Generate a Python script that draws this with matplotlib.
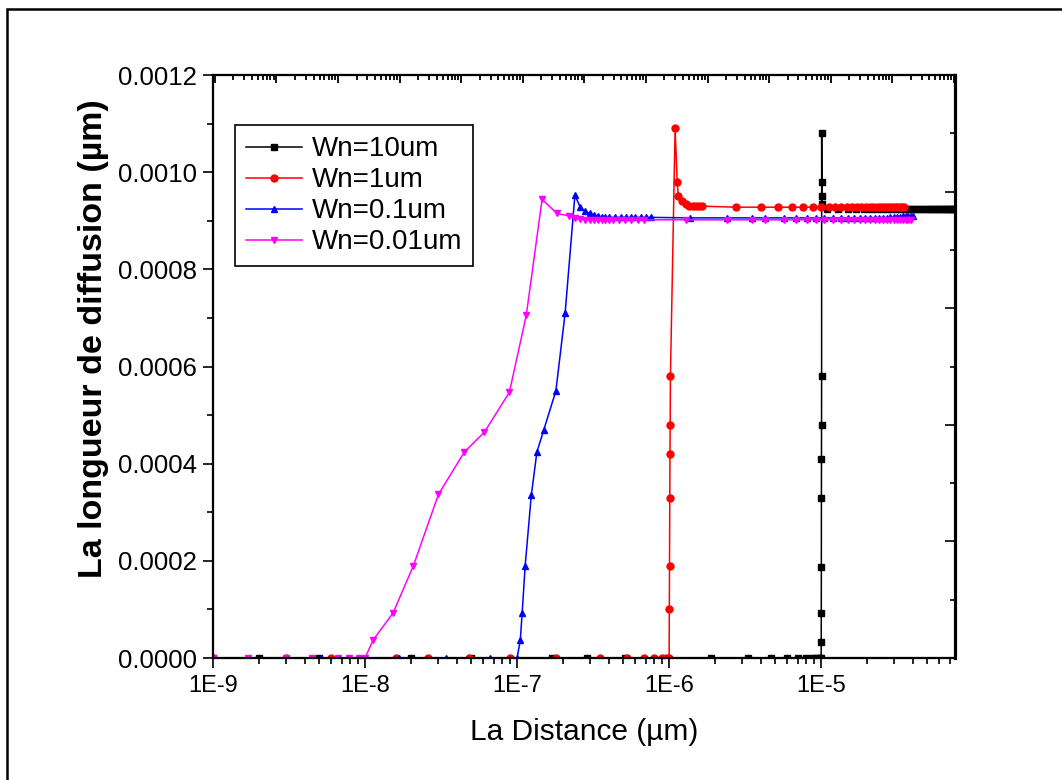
import numpy as np
import matplotlib
matplotlib.use("Agg")
import matplotlib.pyplot as plt
from matplotlib.ticker import LogLocator, MultipleLocator, FuncFormatter, FormatStrFormatter, NullFormatter
from matplotlib.patches import Rectangle

plt.rcParams['font.family'] = ['Liberation Sans', 'DejaVu Sans']

# Wn=10um
black_x = [1e-9, 2e-9, 5e-9, 2e-8, 5e-8, 1.7e-7, 2.9e-7, 5.1e-7, 1.9e-6, 3.3e-6, 4.7e-6, 6e-6, 7e-6, 8e-6,
           8.7e-6, 9.2e-6, 9.6e-6, 9.9e-6,
           1.000e-5, 1.001e-5, 1.002e-5, 1.003e-5, 1.004e-5, 1.005e-5, 1.006e-5, 1.007e-5,
           1.008e-5, 1.010e-5, 1.012e-5, 1.02e-5,
           1.1e-5, 1.3e-5, 1.5e-5, 1.7e-5, 1.9e-5, 2.1e-5, 2.3e-5, 2.5e-5, 2.7e-5, 2.9e-5, 3.1e-5,
           3.3e-5, 3.5e-5, 3.7e-5, 3.9e-5, 4.1e-5, 4.3e-5, 4.5e-5, 4.7e-5, 4.9e-5, 5.1e-5, 5.3e-5,
           5.5e-5, 5.7e-5, 5.9e-5, 6.1e-5, 6.3e-5, 6.5e-5, 6.7e-5, 6.9e-5, 7.1e-5, 7.3e-5, 7.5e-5]
black_y = [0, 0, 0, 0, 0, 0, 0, 0, 0, 0, 0, 0, 0, 0,
           0, 0, 0, 0,
           0, 3.3e-5, 9.3e-5, 1.87e-4, 3.3e-4, 4.1e-4, 4.8e-4, 5.8e-4,
           1.08e-3, 9.8e-4, 9.5e-4, 9.35e-4,
           9.25e-4, 9.25e-4, 9.25e-4, 9.25e-4, 9.25e-4, 9.25e-4, 9.25e-4, 9.25e-4, 9.25e-4, 9.25e-4, 9.25e-4,
           9.25e-4, 9.25e-4, 9.25e-4, 9.25e-4, 9.25e-4, 9.25e-4, 9.25e-4, 9.25e-4, 9.25e-4, 9.25e-4, 9.25e-4,
           9.25e-4, 9.25e-4, 9.25e-4, 9.25e-4, 9.25e-4, 9.25e-4, 9.25e-4, 9.25e-4, 9.25e-4, 9.25e-4, 9.25e-4]

# Wn=1um
red_x = [1e-9, 3e-9, 6e-9, 1.6e-8, 2.6e-8, 4.8e-8, 9e-8, 1.8e-7, 3.5e-7, 5.3e-7, 6.8e-7, 8e-7, 9e-7, 9.6e-7,
         1.0e-6, 1.003e-6, 1.006e-6, 1.010e-6, 1.013e-6, 1.016e-6, 1.02e-6,
         1.095e-6, 1.13e-6, 1.15e-6, 1.22e-6, 1.29e-6, 1.36e-6, 1.43e-6, 1.5e-6, 1.58e-6, 1.65e-6,
         2.75e-6, 4e-6, 5.2e-6, 6.4e-6, 7.6e-6, 8.8e-6, 1.0e-5, 1.12e-5, 1.24e-5, 1.36e-5, 1.48e-5,
         1.6e-5, 1.72e-5, 1.84e-5, 1.96e-5, 2.08e-5, 2.2e-5, 2.32e-5, 2.44e-5, 2.56e-5, 2.68e-5,
         2.8e-5, 2.92e-5, 3.04e-5, 3.16e-5, 3.28e-5, 3.4e-5, 3.52e-5]
red_y = [0, 0, 0, 0, 0, 0, 0, 0, 0, 0, 0, 0, 0, 0,
         0, 1.0e-4, 1.9e-4, 3.3e-4, 4.2e-4, 4.8e-4, 5.8e-4,
         1.09e-3, 9.8e-4, 9.5e-4, 9.4e-4, 9.35e-4, 9.3e-4, 9.3e-4, 9.3e-4, 9.3e-4, 9.3e-4,
         9.28e-4, 9.28e-4, 9.28e-4, 9.28e-4, 9.28e-4, 9.28e-4, 9.28e-4, 9.28e-4, 9.28e-4, 9.28e-4, 9.28e-4,
         9.28e-4, 9.28e-4, 9.28e-4, 9.28e-4, 9.28e-4, 9.28e-4, 9.28e-4, 9.28e-4, 9.28e-4, 9.28e-4,
         9.28e-4, 9.28e-4, 9.28e-4, 9.28e-4, 9.28e-4, 9.28e-4, 9.28e-4]

# Wn=0.1um
blue_x = [1e-9, 3.1e-9, 5.1e-9, 9.4e-9, 1.67e-8, 3.4e-8, 6.6e-8, 1.0e-7,
          1.05e-7, 1.08e-7, 1.13e-7, 1.24e-7, 1.35e-7, 1.5e-7, 1.8e-7, 2.07e-7, 2.4e-7,
          2.6e-7, 2.8e-7, 3.0e-7, 3.2e-7, 3.4e-7, 3.6e-7, 3.8e-7, 4.0e-7, 4.4e-7, 4.8e-7, 5.2e-7,
          5.6e-7, 6.0e-7, 6.5e-7, 7.0e-7, 7.6e-7,
          1.37e-6, 2.4e-6, 3.5e-6, 4.3e-6, 5.7e-6, 6.8e-6, 8.1e-6, 9.2e-6,
          1.05e-5, 1.2e-5, 1.35e-5, 1.5e-5, 1.65e-5, 1.8e-5, 1.95e-5, 2.1e-5, 2.25e-5, 2.4e-5, 2.55e-5,
          2.7e-5, 2.85e-5, 3.0e-5, 3.15e-5, 3.3e-5, 3.45e-5, 3.6e-5, 3.75e-5, 3.9e-5, 4.05e-5]
blue_y = [0, 0, 0, 0, 0, 0, 0, 0,
          3.7e-5, 9.3e-5, 1.9e-4, 3.35e-4, 4.24e-4, 4.7e-4, 5.5e-4, 7.1e-4, 9.53e-4,
          9.28e-4, 9.2e-4, 9.15e-4, 9.12e-4, 9.1e-4, 9.08e-4, 9.07e-4, 9.07e-4, 9.07e-4, 9.07e-4, 9.07e-4,
          9.07e-4, 9.07e-4, 9.07e-4, 9.07e-4, 9.07e-4,
          9.06e-4, 9.06e-4, 9.06e-4, 9.06e-4, 9.06e-4, 9.06e-4, 9.06e-4, 9.06e-4,
          9.06e-4, 9.06e-4, 9.06e-4, 9.06e-4, 9.06e-4, 9.06e-4, 9.06e-4, 9.06e-4, 9.06e-4, 9.06e-4, 9.06e-4,
          9.06e-4, 9.07e-4, 9.07e-4, 9.08e-4, 9.08e-4, 9.09e-4, 9.09e-4, 9.1e-4, 9.1e-4, 9.1e-4]

# Wn=0.01um
mag_x = [1e-9, 1.7e-9, 3e-9, 4.5e-9, 6.6e-9, 7.8e-9, 9.1e-9, 1.0e-8,
         1.13e-8, 1.53e-8, 2.08e-8, 3.04e-8, 4.5e-8, 6.1e-8, 8.9e-8, 1.15e-7, 1.46e-7,
         1.83e-7, 2.2e-7, 2.4e-7, 2.6e-7, 2.8e-7, 3.0e-7, 3.2e-7, 3.4e-7, 3.6e-7, 3.8e-7, 4.0e-7,
         4.3e-7, 4.7e-7, 5.1e-7, 5.6e-7, 6.2e-7, 6.8e-7,
         1.3e-6, 2.4e-6, 3.5e-6, 4.3e-6, 5.7e-6, 6.8e-6, 8.1e-6, 9.2e-6,
         1.05e-5, 1.2e-5, 1.35e-5, 1.5e-5, 1.65e-5, 1.8e-5, 1.95e-5, 2.1e-5, 2.25e-5, 2.4e-5, 2.55e-5,
         2.7e-5, 2.85e-5, 3.0e-5, 3.15e-5, 3.3e-5, 3.45e-5, 3.6e-5, 3.75e-5, 3.9e-5]
mag_y = [0, 0, 0, 0, 0, 0, 0, 0,
         3.7e-5, 9.3e-5, 1.9e-4, 3.37e-4, 4.24e-4, 4.65e-4, 5.47e-4, 7.06e-4, 9.44e-4,
         9.15e-4, 9.1e-4, 9.05e-4, 9.03e-4, 9.02e-4, 9.02e-4, 9.02e-4, 9.02e-4, 9.02e-4, 9.02e-4, 9.02e-4,
         9.02e-4, 9.02e-4, 9.02e-4, 9.02e-4, 9.02e-4, 9.02e-4,
         9.02e-4, 9.02e-4, 9.02e-4, 9.02e-4, 9.02e-4, 9.02e-4, 9.02e-4, 9.02e-4,
         9.02e-4, 9.02e-4, 9.02e-4, 9.02e-4, 9.02e-4, 9.02e-4, 9.02e-4, 9.02e-4, 9.02e-4, 9.02e-4, 9.02e-4,
         9.02e-4, 9.02e-4, 9.02e-4, 9.02e-4, 9.02e-4, 9.02e-4, 9.02e-4, 9.02e-4, 9.02e-4]

labels = ['Wn=10um', 'Wn=1um', 'Wn=0.1um', 'Wn=0.01um']
colors = ['black', '#ff0000', '#0000ff', '#ff00ff']
markers = ['s', 'o', '^', 'v']

fig = plt.figure(figsize=(10.62, 7.8), dpi=100)
ax = fig.add_axes([0.2006, 0.1564, 0.6987, 0.7474])

# outer frame of the exported image
fig.patches.append(Rectangle((7 / 1062, -0.05), 1.2, 1 - 9 / 780 + 0.05, transform=fig.transFigure,
                             fill=False, lw=1.8, ec='black'))

for x, y, c, m, lab in zip([black_x, red_x, blue_x, mag_x], [black_y, red_y, blue_y, mag_y],
                           colors, markers, labels):
    ax.plot(x, y, color=c, marker=m, markersize=5, lw=1.1, label=lab)

ax.set_xscale('log')
ax.set_xlim(1e-9, 7.6e-5)
ax.set_ylim(0, 0.0012)
ax.xaxis.set_major_locator(LogLocator(base=10, numticks=15))
ax.xaxis.set_minor_locator(LogLocator(base=10, subs=np.arange(2, 10) * 1.0, numticks=15))
ax.xaxis.set_major_formatter(FuncFormatter(lambda v, p: '1E%d' % round(np.log10(v))))
ax.xaxis.set_minor_formatter(NullFormatter())
ax.yaxis.set_major_locator(MultipleLocator(0.0002))
ax.yaxis.set_minor_locator(MultipleLocator(0.0001))
ax.yaxis.set_major_formatter(FormatStrFormatter('%.4f'))
ax.tick_params(which='major', direction='out', length=7.5, width=1.2, labelsize=17)
ax.tick_params(which='minor', direction='out', length=4.5, width=1.2)
ax.tick_params(axis='x', which='major', pad=5)
ax.tick_params(axis='y', which='major', pad=4, labelsize=18.5)

# top axis (Origin style, different log span)
ax_top = ax.twiny()
ax_top.set_xscale('log')
ax_top.set_xlim(10 ** -12.03, 10 ** 0.02)
ax_top.xaxis.set_major_locator(LogLocator(base=10, numticks=20))
ax_top.xaxis.set_minor_locator(LogLocator(base=10, subs=np.arange(2, 10) * 1.0, numticks=20))
ax_top.xaxis.set_minor_formatter(NullFormatter())
ax_top.tick_params(which='major', direction='in', length=6, width=1.3, labeltop=False)
ax_top.tick_params(which='minor', direction='in', length=3.5, width=1.3)

# right axis
ax_r = ax.twinx()
ax_r.set_ylim(0, 1)
ax_r.yaxis.set_major_locator(MultipleLocator(0.2))
ax_r.yaxis.set_minor_locator(MultipleLocator(0.1))
ax_r.tick_params(which='major', direction='in', length=7, width=1.2, labelright=False)
ax_r.tick_params(which='minor', direction='in', length=3.5, width=1.2)

for a in [ax, ax_top, ax_r]:
    for s in ['left', 'bottom', 'top']:
        a.spines[s].set_linewidth(1.5)
    a.spines['right'].set_linewidth(2.2)

ax.set_xlabel('La Distance (µm)', fontsize=21.5, labelpad=15)
ax.set_ylabel('La longueur de diffusion (µm)', fontsize=24.5, fontweight='bold')
ax.yaxis.set_label_coords(-0.140, 0.547)

leg = ax.legend(loc='upper left', bbox_to_anchor=(0.0297, 0.914), borderaxespad=0, fontsize=20,
                fancybox=False, edgecolor='black', handlelength=2.0, handletextpad=0.35,
                labelspacing=0.18, borderpad=0.4)
leg.get_frame().set_linewidth(1.2)
leg.get_frame().set_alpha(1)

fig.savefig('out.png', dpi=100)
